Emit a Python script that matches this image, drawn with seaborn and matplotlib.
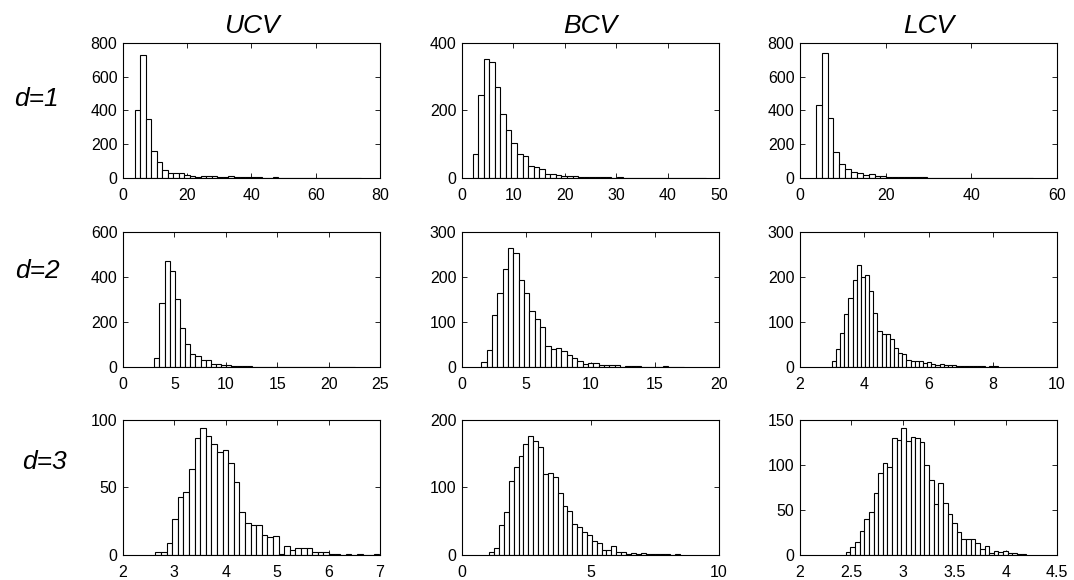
import matplotlib
import numpy as np
import pandas as pd

matplotlib.use("Agg")
import matplotlib.pyplot as plt
import seaborn as sns

methods = ["UCV", "BCV", "LCV"]
dims = ["d=1", "d=2", "d=3"]

# histogram bin range (first edge, last edge) and bar counts
ucv_d1_range = (3.6, 74.12)
ucv_d1_counts = [400, 730, 350, 162, 95, 49, 28, 28, 30, 18, 14, 8, 10, 14, 14, 6, 8, 10, 8, 4,
                 4, 3, 3, 2, 2, 5, 2, 1, 1, 1, 2, 1, 1, 1, 0, 1, 1, 1, 0, 1, 1]
bcv_d1_range = (2.06, 47.42)
bcv_d1_counts = [70, 245, 354, 344, 270, 189, 142, 105, 72, 65, 35, 33, 28, 11, 13, 10, 5, 6, 7, 4,
                 4, 3, 2, 2, 2, 1, 2, 1, 1, 1, 1, 0, 1, 1, 0, 1, 0, 0, 1, 0, 0, 1]
lcv_d1_range = (3.7, 54.39)
lcv_d1_counts = [435, 741, 356, 154, 81, 55, 34, 30, 16, 26, 12, 14, 8, 8, 6, 4, 4, 3, 3, 2,
                 2, 2, 1, 1, 1, 1, 1, 1, 1, 0, 1, 0, 0, 1, 0, 0, 1]

ucv_d2_range = (3.05, 22.55)
ucv_d2_counts = [41, 285, 472, 426, 301, 173, 102, 59, 47, 32, 31, 12, 15, 7, 7, 4, 3, 3, 3, 2,
                 2, 1, 2, 1, 1, 1, 0, 1, 0, 1, 0, 0, 1, 0, 1, 0, 0, 0, 1]
bcv_d2_range = (1.5, 17.27)
bcv_d2_counts = [12, 37, 116, 165, 217, 264, 253, 194, 164, 125, 106, 88, 47, 40, 43, 35, 27, 19, 13, 7,
                 10, 10, 5, 4, 4, 4, 1, 2, 3, 3, 1, 1, 1, 1, 3, 1, 0, 1]
lcv_d2_range = (2.99, 8.15)
lcv_d2_counts = [14, 41, 76, 117, 153, 193, 226, 200, 205, 169, 121, 79, 74, 74, 62, 43, 32, 29, 15, 14,
                 14, 13, 10, 12, 7, 5, 7, 4, 4, 4, 3, 3, 2, 2, 3, 2, 2, 1, 3, 3]

ucv_d3_range = (2.63, 6.99)
ucv_d3_counts = [2, 2, 9, 27, 43, 47, 64, 87, 94, 88, 82, 76, 78, 68, 54, 32, 24, 22, 22, 15,
                 13, 14, 1, 7, 4, 5, 5, 5, 2, 2, 2, 1, 1, 0, 1, 0, 1, 0, 0, 1]
bcv_d3_range = (1.06, 8.47)
bcv_d3_counts = [5, 10, 44, 64, 110, 130, 147, 164, 176, 169, 160, 120, 122, 116, 92, 73, 65, 46, 41, 34,
                 29, 20, 18, 8, 8, 14, 4, 4, 2, 3, 2, 3, 2, 2, 2, 1, 1, 0, 1]
lcv_d3_range = (2.445, 4.2)
lcv_d3_counts = [3, 9, 14, 27, 40, 48, 69, 91, 102, 98, 130, 128, 141, 127, 131, 130, 125, 100, 83, 57,
                 80, 58, 45, 35, 26, 18, 18, 18, 13, 7, 10, 2, 4, 3, 4, 2, 2, 1, 1]

# axis ticks per panel (row-major)
x_ticks = [
    [0, 20, 40, 60, 80], [0, 10, 20, 30, 40, 50], [0, 20, 40, 60],
    [0, 5, 10, 15, 20, 25], [0, 5, 10, 15, 20], [2, 4, 6, 8, 10],
    [2, 3, 4, 5, 6, 7], [0, 5, 10], [2, 2.5, 3, 3.5, 4, 4.5],
]
y_ticks = [
    [0, 200, 400, 600, 800], [0, 200, 400], [0, 200, 400, 600, 800],
    [0, 200, 400, 600], [0, 100, 200, 300], [0, 100, 200, 300],
    [0, 50, 100], [0, 100, 200], [0, 50, 100, 150],
]

panels = [
    (ucv_d1_range, ucv_d1_counts), (bcv_d1_range, bcv_d1_counts), (lcv_d1_range, lcv_d1_counts),
    (ucv_d2_range, ucv_d2_counts), (bcv_d2_range, bcv_d2_counts), (lcv_d2_range, lcv_d2_counts),
    (ucv_d3_range, ucv_d3_counts), (bcv_d3_range, bcv_d3_counts), (lcv_d3_range, lcv_d3_counts),
]

sns.set_style("ticks", {"xtick.direction": "in", "ytick.direction": "in",
                        "axes.edgecolor": "black", "text.color": "black",
                        "xtick.color": "black", "ytick.color": "black"})
plt.rcParams["font.family"] = ["Liberation Sans", "DejaVu Sans"]

fig = plt.figure(figsize=(10.74, 5.80), dpi=100)

col_left = [0.1145, 0.4302, 0.7449]
row_bottom = [0.6931, 0.3672, 0.0431]
width, height = 0.2393, 0.2328
label_y = [0.830, 0.533, 0.203]
label_x = [0.034, 0.035, 0.041]

for i, ((lo, hi), counts) in enumerate(panels):
    r, c = divmod(i, 3)
    ax = fig.add_axes([col_left[c], row_bottom[r], width, height])
    edges = np.linspace(lo, hi, len(counts) + 1)
    hist_df = pd.DataFrame({
        "value": (edges[:-1] + edges[1:]) / 2,
        "count": np.asarray(counts, dtype=float),
    })
    sns.histplot(data=hist_df, x="value", weights="count", bins=list(edges), ax=ax,
                 color="white", edgecolor="black", linewidth=0.8, alpha=1)
    ax.set_xlim(x_ticks[i][0], x_ticks[i][-1])
    ax.set_ylim(y_ticks[i][0], y_ticks[i][-1])
    ax.set_xticks(x_ticks[i])
    ax.set_xticklabels([f"{t:g}" for t in x_ticks[i]])
    ax.set_yticks(y_ticks[i])
    ax.set_xlabel("")
    ax.set_ylabel("")
    for side in ax.spines.values():
        side.set_visible(True)
        side.set_linewidth(0.8)
        side.set_color("black")
    ax.tick_params(axis="both", which="both", direction="in", length=3.5, width=0.6,
                   top=True, right=True, labelsize=11.5, colors="black")
    ax.tick_params(axis="x", pad=7)
    ax.tick_params(axis="y", pad=4)
    if r == 0:
        ax.set_title(methods[c], fontsize=19, style="italic", pad=7, color="black")

for r, name in enumerate(dims):
    fig.text(label_x[r], label_y[r], name, fontsize=19, style="italic",
             ha="center", va="center", color="black")

fig.savefig("out.png", dpi=100, facecolor="white")
